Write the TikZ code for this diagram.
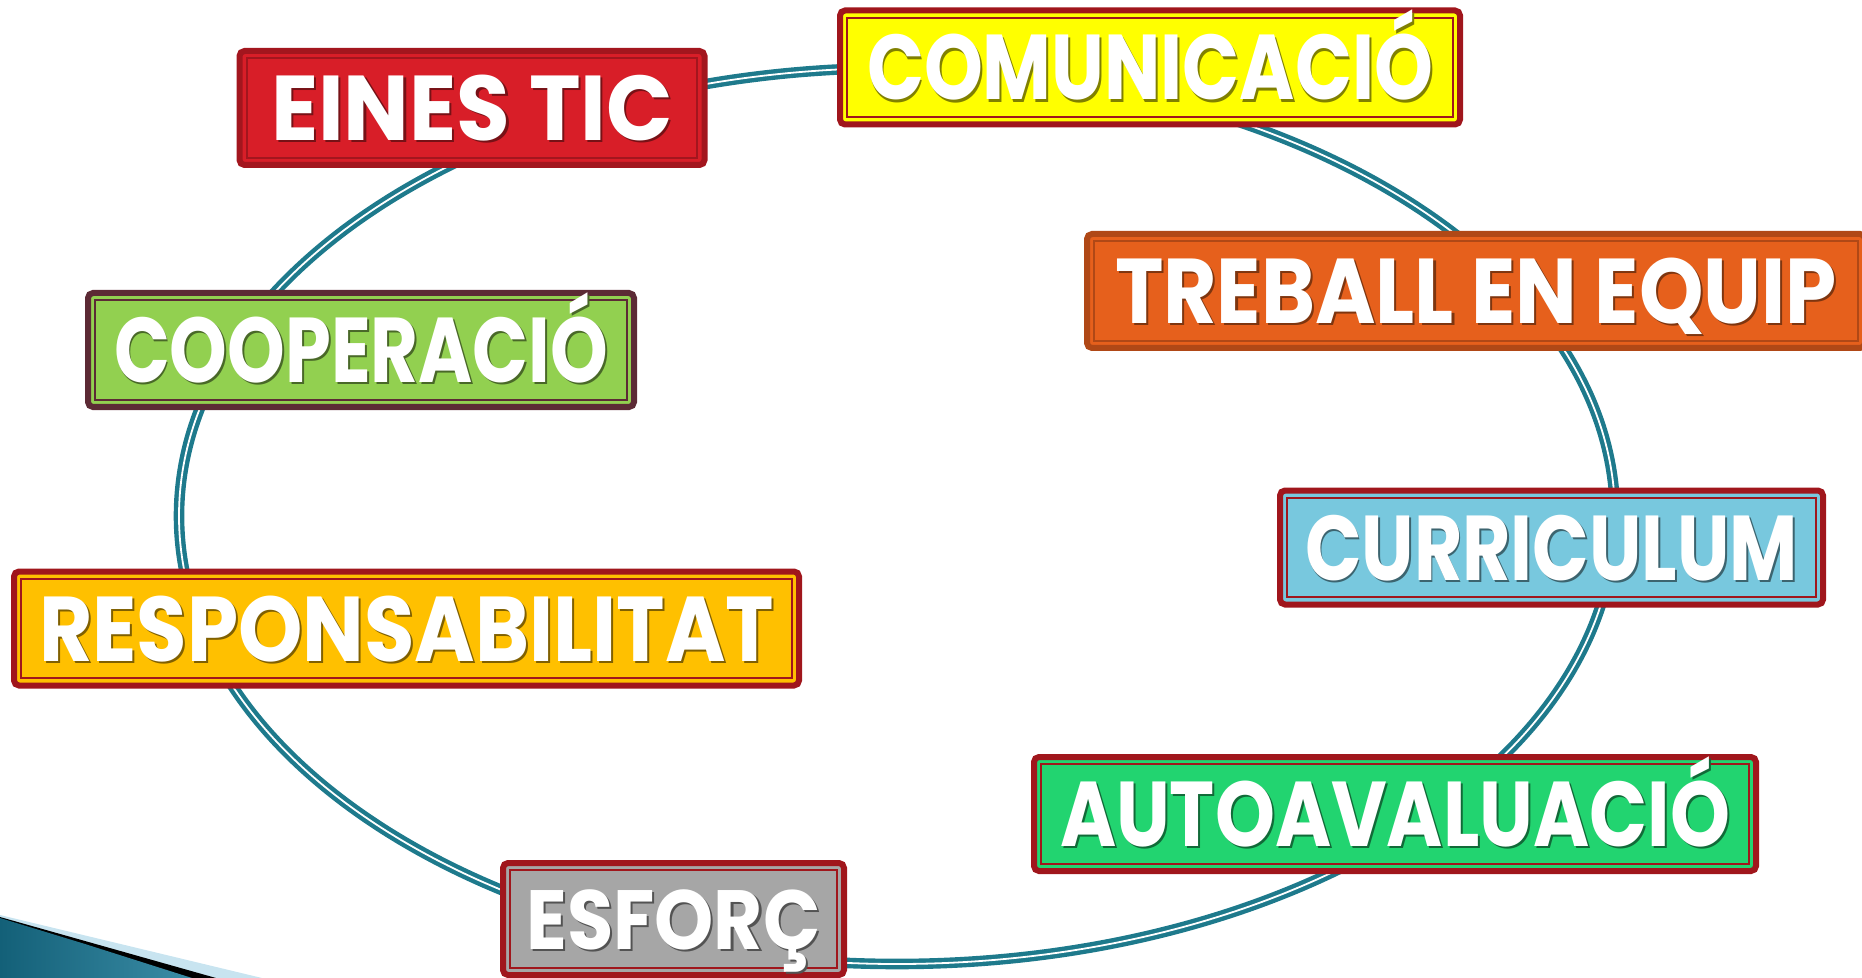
\documentclass[tikz,border=0pt]{standalone}
\usepackage{fontspec}
\setmainfont{Poppins}
\usepackage{graphicx}

\definecolor{ringteal}{RGB}{30,122,140}
\definecolor{framered}{RGB}{160,22,28}
\definecolor{ticred}{RGB}{216,30,40}
\definecolor{ticframe}{RGB}{163,22,30}
\definecolor{comyellow}{RGB}{255,255,0}
\definecolor{teamorange}{RGB}{230,96,28}
\definecolor{teamframe}{RGB}{176,72,22}
\definecolor{coopgreen}{RGB}{146,208,80}
\definecolor{coopframe}{RGB}{92,42,53}
\definecolor{curblue}{RGB}{120,200,222}
\definecolor{respamber}{RGB}{255,192,0}
\definecolor{evalgreen}{RGB}{34,212,112}
\definecolor{effgrey}{RGB}{166,166,166}
\definecolor{swoosh}{RGB}{24,120,150}
\definecolor{swooshlight}{RGB}{200,228,240}

% white text with a soft shadow, squeezed to the width it has on the slide
\newsavebox{\lblbox}
\makeatletter
\newcommand{\fittext}[3]{%
  \sbox{\lblbox}{\rlap{\hspace{1.2pt}\raisebox{-1.2pt}{\textcolor{#2}{#3}}}#3}%
  \edef\lblscale{\strip@pt\dimexpr #1*65536/\wd\lblbox\relax}%
  \scalebox{\lblscale}[1]{\usebox{\lblbox}}}
\makeatother

\tikzset{
x=0.5pt, y=-0.5pt,
ringline/.style={draw=ringteal, line width=2.2pt, double=white, double distance=0.9pt},
labelbox/.style 2 args={
  draw=#2, fill=#1, line width=3pt, rounded corners=2.5pt,
  inner sep=0pt, outer sep=0pt, minimum height=57pt,
  text=white, text height=32.5pt, text depth=0pt,
  font=\fontsize{46}{46}\selectfont\bfseries,
  path picture={\draw[#2, line width=0.9pt, sharp corners]
    ([shift={(3.6pt,-3.6pt)}]path picture bounding box.north west) rectangle
    ([shift={(-3.6pt,3.6pt)}]path picture bounding box.south east);}
},
}

\begin{document}
\begin{tikzpicture}
        \useasboundingbox (0,0) rectangle (1862,978);

        % corner swoosh
        \fill[swooshlight] (0,915) -- (262,978) -- (0,978) -- cycle;
        \fill[black] (0,917) -- (216,978) -- (0,978) -- cycle;
        \shade[left color=swoosh!80!black, right color=swoosh!85!white]
            (0,918) -- (85,944) -- (192,978) -- (0,978) -- cycle;

        % ring
        \draw[ringline] (897,516) ellipse [x radius=718, y radius=448];

        % boxes
        \node[labelbox={ticred}{ticframe}, minimum width=232.5pt] (eines) at (472,108)
            {\fittext{201pt}{ticred!55!black}{EINES TIC}};
        \node[labelbox={comyellow}{framered}, minimum width=310pt] (comunicacio) at (1150,67.5)
            {\fittext{283pt}{comyellow!50!black}{COMUNICACIÓ}};
        \node[labelbox={teamorange}{teamframe}, minimum width=389pt] (treball) at (1476,291)
            {\fittext{361pt}{teamorange!55!black}{TREBALL EN EQUIP}};
        \node[labelbox={coopgreen}{coopframe}, minimum width=273pt] (cooperacio) at (361,350)
            {\fittext{247pt}{coopgreen!50!black}{COOPERACIÓ}};
        \node[labelbox={curblue}{framered}, minimum width=271.5pt] (curriculum) at (1551.5,547.5)
            {\fittext{246.5pt}{curblue!50!black}{CURRICULUM}};
        \node[labelbox={respamber}{framered}, minimum width=392.5pt] (responsabilitat) at (406.5,628.5)
            {\fittext{367.5pt}{respamber!50!black}{RESPONSABILITAT}};
        \node[labelbox={evalgreen}{framered}, minimum width=361pt] (autoavaluacio) at (1395,814)
            {\fittext{335pt}{evalgreen!50!black}{AUTOAVALUACIÓ}};
        \node[labelbox={effgrey}{framered}, minimum width=170.5pt, minimum height=56pt,
              text height=30pt, font=\fontsize{42}{42}\selectfont\bfseries] (esforc) at (673.5,919)
            {\fittext{147pt}{effgrey!50!black}{ESFORÇ}};
\end{tikzpicture}
\end{document}
